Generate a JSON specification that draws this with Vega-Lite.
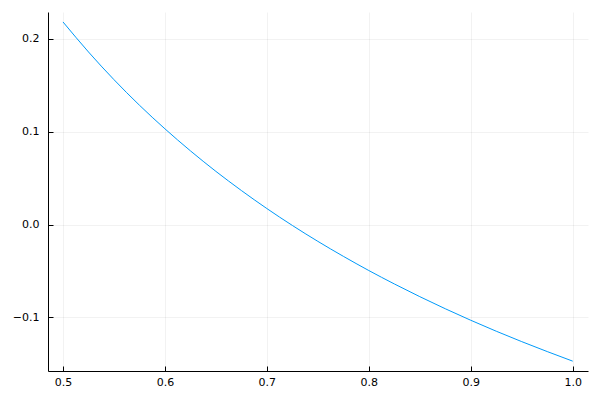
{
  "$schema": "https://vega.github.io/schema/vega-lite/v6.json",
  "autosize": {"type": "none"},
  "padding": {"left": 48, "top": 12, "right": 12, "bottom": 29},
  "width": 540,
  "height": 359,
  "background": "white",
  "config": {
    "view": {"stroke": null},
    "axis": {
      "labelFont": "DejaVu Sans",
      "labelFontSize": 11,
      "labelColor": "#000000",
      "domainColor": "#000000",
      "domainWidth": 1,
      "tickColor": "#000000",
      "tickWidth": 1,
      "gridColor": "#000000",
      "gridOpacity": 0.1,
      "gridWidth": 0.5,
      "title": null
    }
  },
  "data": {
    "values": [
      {"x": 0.500, "y": 0.2180},
      {"x": 0.525, "y": 0.1857},
      {"x": 0.550, "y": 0.1559},
      {"x": 0.575, "y": 0.1284},
      {"x": 0.600, "y": 0.1030},
      {"x": 0.625, "y": 0.0793},
      {"x": 0.650, "y": 0.0572},
      {"x": 0.675, "y": 0.0366},
      {"x": 0.700, "y": 0.0172},
      {"x": 0.725, "y": -0.0010},
      {"x": 0.750, "y": -0.0181},
      {"x": 0.775, "y": -0.0342},
      {"x": 0.800, "y": -0.0495},
      {"x": 0.825, "y": -0.0639},
      {"x": 0.850, "y": -0.0776},
      {"x": 0.875, "y": -0.0906},
      {"x": 0.900, "y": -0.1030},
      {"x": 0.925, "y": -0.1148},
      {"x": 0.950, "y": -0.1260},
      {"x": 0.975, "y": -0.1367},
      {"x": 1.000, "y": -0.1470}
    ]
  },
  "mark": {"type": "line", "color": "#009AFA", "strokeWidth": 1, "interpolate": "monotone", "clip": true},
  "encoding": {
    "x": {
      "field": "x", "type": "quantitative",
      "scale": {"domain": [0.4853, 1.015], "nice": false, "zero": false},
      "axis": {"values": [0.5, 0.6, 0.7, 0.8, 0.9, 1.0], "format": ".1f", "tickSize": -5, "labelPadding": 10}
    },
    "y": {
      "field": "y", "type": "quantitative",
      "scale": {"domain": [-0.1576, 0.2287], "nice": false, "zero": false},
      "axis": {"values": [-0.1, 0.0, 0.1, 0.2], "format": ".1f", "tickSize": -5, "labelPadding": 14}
    }
  }
}
